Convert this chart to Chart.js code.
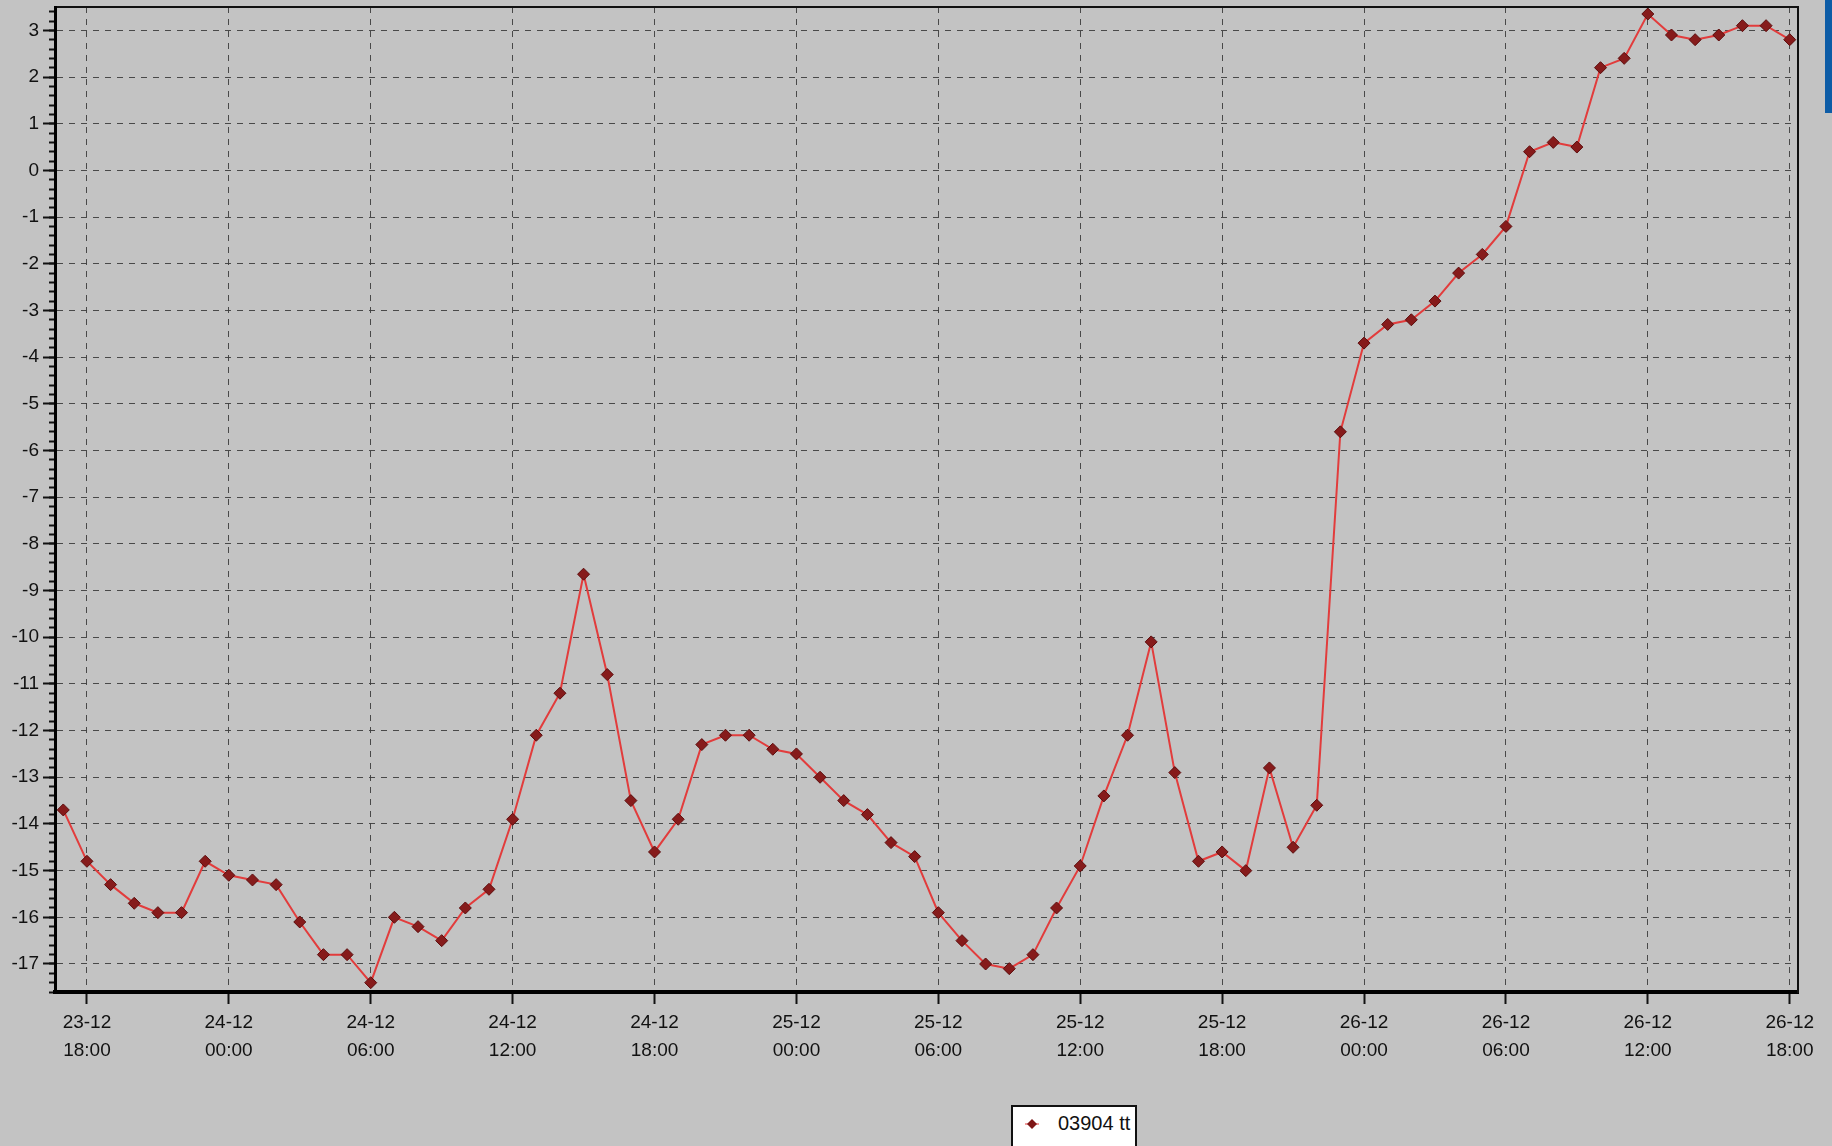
<!DOCTYPE html>
<html>
<head>
<meta charset="utf-8">
<script src="https://cdn.jsdelivr.net/npm/chart.js@4/dist/chart.umd.min.js"></script>
<style>
    html, body { margin: 0; padding: 0; background: #c3c3c3; overflow: hidden; }
    #wrap { position: relative; width: 1832px; height: 1146px; }
    #blue-strip { position: absolute; left: 1825px; top: 0; width: 7px; height: 113px; background: #0d5ca6; }
    #legend-box {
        position: absolute; left: 1011px; top: 1105px; width: 122px; height: 41px;
        background: #fff; border: 2px solid #111; border-bottom: none; overflow: hidden;
        font-family: "Liberation Sans", Arial, sans-serif; font-size: 20px; color: #111;
        white-space: nowrap;
    }
    #legend-mark { position: absolute; left: 12px; top: 10px; width: 14px; height: 14px; }
    #legend-text { position: absolute; left: 45px; top: 5px; }
</style>
</head>
<body>
<div id="wrap">
    <canvas id="temp-canvas" width="1832" height="1146"></canvas>
    <div id="blue-strip"></div>
    <div id="legend-box">
        <canvas id="legend-mark" width="14" height="14"></canvas>
        <span id="legend-text"></span>
    </div>
</div>
<script>
// hours counted from 23-12 00:00
const hours = [17, 18, 19, 20, 21, 22, 23, 24, 25, 26, 27, 28, 29, 30, 31, 32, 33, 34, 35, 36,
    37, 38, 39, 40, 41, 42, 43, 44, 45, 46, 47, 48, 49, 50, 51, 52, 53, 54, 55, 56,
    57, 58, 59, 60, 61, 62, 63, 64, 65, 66, 67, 68, 69, 70, 71, 72, 73, 74, 75, 76,
    77, 78, 79, 80, 81, 82, 83, 84, 85, 86, 87, 88, 89, 90];

const temps = [-13.7, -14.8, -15.3, -15.7, -15.9, -15.9, -14.8, -15.1, -15.2, -15.3,
    -16.1, -16.8, -16.8, -17.4, -16.0, -16.2, -16.5, -15.8, -15.4, -13.9,
    -12.1, -11.2, -8.65, -10.8, -13.5, -14.6, -13.9, -12.3, -12.1, -12.1,
    -12.4, -12.5, -13.0, -13.5, -13.8, -14.4, -14.7, -15.9, -16.5, -17.0,
    -17.1, -16.8, -15.8, -14.9, -13.4, -12.1, -10.1, -12.9, -14.8, -14.6,
    -15.0, -12.8, -14.5, -13.6, -5.6, -3.7, -3.3, -3.2, -2.8, -2.2,
    -1.8, -1.2, 0.4, 0.6, 0.5, 2.2, 2.4, 3.35, 2.9, 2.8,
    2.9, 3.1, 3.1, 2.8];

const seriesLabel = '03904 tt';

const xTickValues = [18, 24, 30, 36, 42, 48, 54, 60, 66, 72, 78, 84, 90];
const xTickLabels = ['23-12|18:00', '24-12|00:00', '24-12|06:00', '24-12|12:00', '24-12|18:00',
    '25-12|00:00', '25-12|06:00', '25-12|12:00', '25-12|18:00',
    '26-12|00:00', '26-12|06:00', '26-12|12:00', '26-12|18:00'];
const yTickValues = [3, 2, 1, 0, -1, -2, -3, -4, -5, -6, -7, -8, -9, -10,
    -11, -12, -13, -14, -15, -16, -17];

const xMin = 16.65, xMax = 90.35;
const yMin = -17.6, yMax = 3.5;

const tickFont = { family: '"Liberation Sans", Arial, sans-serif', size: 19, lineHeight: 1.45 };

function buildPoints(){
    let pts = [];
    hours.forEach((h, i) => {
        pts.push({ x: h, y: temps[i] });
    });
    return pts;
}

function noPad(scale){
    scale.paddingTop = 0;
    scale.paddingBottom = 0;
}

function drawLegend(){
    let text = document.getElementById('legend-text');
    text.textContent = seriesLabel;
    let ctx = document.getElementById('legend-mark').getContext('2d');
    ctx.strokeStyle = '#e03a3a';
    ctx.lineWidth = 1;
    ctx.beginPath();
    ctx.moveTo(0, 7); ctx.lineTo(14, 7);
    ctx.stroke();
    ctx.fillStyle = '#7e1717';
    ctx.beginPath();
    ctx.moveTo(7, 2); ctx.lineTo(12, 7); ctx.lineTo(7, 12); ctx.lineTo(2, 7);
    ctx.closePath();
    ctx.fill();
}

function generateChart(){
    let ctx = document.getElementById('temp-canvas').getContext('2d');
    let chart = new Chart(ctx, {
        type: 'line',
        data: {
            datasets: [{
                label: seriesLabel,
                data: buildPoints(),
                borderColor: '#e23c3c',
                borderWidth: 2,
                pointStyle: 'rectRot',
                pointRadius: 6,
                pointBackgroundColor: '#861b1b',
                pointBorderColor: '#5c0c0c',
                pointBorderWidth: 1,
                tension: 0
            }]
        },
        options: {
            responsive: false,
            animation: false,
            layout: { padding: { top: 3, right: 34, left: 0, bottom: 0 } },
            plugins: {
                legend: { display: false },
                tooltip: { enabled: false }
            },
            scales: {
                x: {
                    type: 'linear',
                    position: 'bottom',
                    min: xMin,
                    max: xMax,
                    afterBuildTicks: (scale) => {
                        scale.ticks = xTickValues.map(v => ({ value: v }));
                    },
                    afterFit: (scale) => { scale.height = 154; },
                    ticks: {
                        autoSkip: false,
                        maxRotation: 0,
                        color: '#111',
                        font: tickFont,
                        padding: 5,
                        callback: (value) => {
                            let idx = xTickValues.indexOf(value);
                            return idx < 0 ? '' : xTickLabels[idx].split('|');
                        }
                    },
                    grid: {
                        color: 'rgba(60,60,60,0.9)',
                        lineWidth: 1,
                        tickLength: 12,
                        tickColor: '#111',
                        tickWidth: 2
                    },
                    border: { display: true, color: '#000', width: 4, dash: [6, 6] }
                },
                xTop: {
                    type: 'linear',
                    position: 'top',
                    min: xMin,
                    max: xMax,
                    afterFit: (scale) => { scale.height = 0; },
                    ticks: { display: false },
                    grid: { drawOnChartArea: false, drawTicks: false },
                    border: { display: true, color: '#111', width: 2 }
                },
                y: {
                    type: 'linear',
                    position: 'left',
                    weight: 1,
                    min: yMin,
                    max: yMax,
                    afterBuildTicks: (scale) => {
                        scale.ticks = yTickValues.map(v => ({ value: v }));
                    },
                    afterFit: (scale) => { scale.width = 55; noPad(scale); },
                    ticks: {
                        color: '#111',
                        font: tickFont,
                        padding: 4,
                        callback: (value) => String(value)
                    },
                    grid: {
                        color: 'rgba(60,60,60,0.9)',
                        lineWidth: 1,
                        tickLength: 12,
                        tickColor: '#111',
                        tickWidth: 2
                    },
                    border: { display: true, color: '#000', width: 3, dash: [6, 6] }
                },
                yMinor: {
                    type: 'linear',
                    position: 'left',
                    weight: 0,
                    min: yMin,
                    max: yMax,
                    afterBuildTicks: (scale) => {
                        let t = [];
                        for (let v = -17.6; v <= 3.5; v += 0.2) t.push({ value: Math.round(v * 10) / 10 });
                        scale.ticks = t;
                    },
                    afterFit: (scale) => { scale.width = 0; noPad(scale); },
                    ticks: { display: false },
                    grid: {
                        drawOnChartArea: false,
                        tickLength: 6,
                        tickColor: '#111',
                        tickWidth: 2
                    },
                    border: { display: false }
                },
                yRight: {
                    type: 'linear',
                    position: 'right',
                    min: yMin,
                    max: yMax,
                    afterFit: (scale) => { scale.width = 0; noPad(scale); },
                    ticks: { display: false },
                    grid: { drawOnChartArea: false, drawTicks: false },
                    border: { display: true, color: '#111', width: 2 }
                }
            }
        }
    });
    return chart;
}

generateChart();
drawLegend();
</script>
</body>
</html>
